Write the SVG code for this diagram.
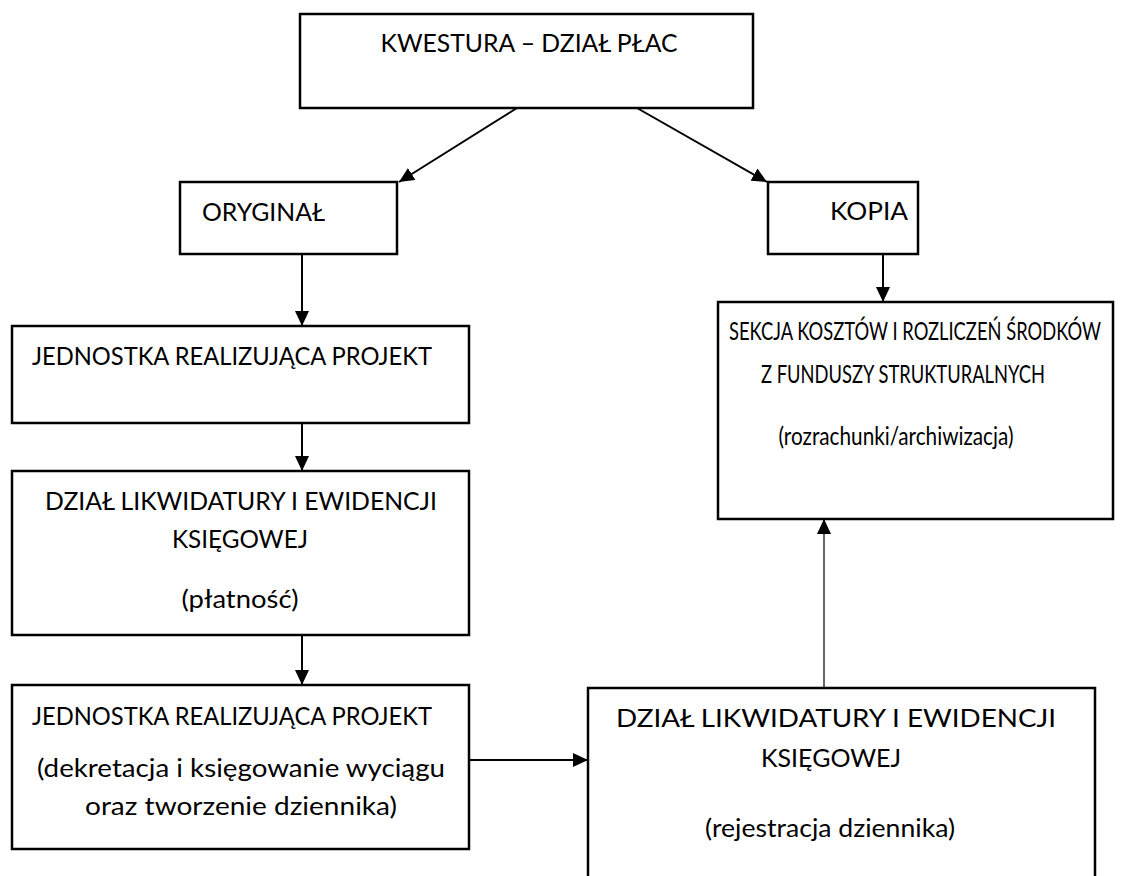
<svg xmlns="http://www.w3.org/2000/svg" width="1125" height="876" viewBox="0 0 1125 876">
<style>
.box{fill:#fff;stroke:#000;stroke-width:2.5}
.t{font-family:Lato,"Open Sans","Liberation Sans",sans-serif;font-size:25px;fill:#000}
.m{text-anchor:middle}
.c{fill:none;stroke:#000;stroke-width:2}
.thin{fill:none;stroke:#000;stroke-width:1.2}
</style>
<defs>
<marker id="ah" markerUnits="userSpaceOnUse" markerWidth="16" markerHeight="14" refX="15" refY="7" orient="auto">
<path d="M0,0 L15,7 L0,14 z" fill="#000"/>
</marker>
</defs>
<rect width="1125" height="876" fill="#fff"/>
<g id="connectors">
<line class="c" x1="517" y1="108" x2="399" y2="182" marker-end="url(#ah)"/>
<line class="c" x1="637" y1="108" x2="767" y2="182" marker-end="url(#ah)"/>
<line class="c" x1="302" y1="254" x2="302" y2="326" marker-end="url(#ah)"/>
<line class="c" x1="883" y1="255" x2="883" y2="302" marker-end="url(#ah)"/>
<line class="c" x1="302" y1="424" x2="302" y2="471" marker-end="url(#ah)"/>
<line class="c" x1="302" y1="635" x2="302" y2="685" marker-end="url(#ah)"/>
<line class="c" x1="469" y1="760" x2="588" y2="760" marker-end="url(#ah)"/>
<line class="thin" x1="824" y1="688" x2="824" y2="519" marker-end="url(#ah)"/>
</g>
<g id="n-kwestura">
<rect class="box" x="300" y="14" width="453" height="94"/>
<text class="t m" x="529" y="52" textLength="297" lengthAdjust="spacingAndGlyphs">KWESTURA – DZIAŁ PŁAC</text>
</g>
<g id="n-oryginal">
<rect class="box" x="180" y="182" width="217" height="72"/>
<text class="t" x="202" y="221" textLength="123" lengthAdjust="spacingAndGlyphs">ORYGINAŁ</text>
</g>
<g id="n-kopia">
<rect class="box" x="768" y="182" width="150" height="72"/>
<text class="t m" x="869" y="220" textLength="78" lengthAdjust="spacingAndGlyphs">KOPIA</text>
</g>
<g id="n-sekcja">
<rect class="box" x="718" y="302" width="395" height="217"/>
<text class="t m" x="915" y="340" textLength="372" lengthAdjust="spacingAndGlyphs">SEKCJA KOSZTÓW I ROZLICZEŃ ŚRODKÓW</text>
<text class="t m" x="903" y="383" textLength="284" lengthAdjust="spacingAndGlyphs">Z FUNDUSZY STRUKTURALNYCH</text>
<text class="t m" x="896" y="445" textLength="235" lengthAdjust="spacingAndGlyphs">(rozrachunki/archiwizacja)</text>
</g>
<g id="n-jednostka1">
<rect class="box" x="12" y="326" width="457" height="97"/>
<text class="t m" x="232" y="365" textLength="400" lengthAdjust="spacingAndGlyphs">JEDNOSTKA REALIZUJĄCA PROJEKT</text>
</g>
<g id="n-dzial1">
<rect class="box" x="12" y="471" width="457" height="164"/>
<text class="t m" x="241" y="510" textLength="392" lengthAdjust="spacingAndGlyphs">DZIAŁ LIKWIDATURY I EWIDENCJI</text>
<text class="t m" x="240" y="548" textLength="136" lengthAdjust="spacingAndGlyphs">KSIĘGOWEJ</text>
<text class="t m" x="240" y="608" textLength="117" lengthAdjust="spacingAndGlyphs">(płatność)</text>
</g>
<g id="n-jednostka2">
<rect class="box" x="12" y="685" width="457" height="164"/>
<text class="t m" x="232" y="725" textLength="400" lengthAdjust="spacingAndGlyphs">JEDNOSTKA REALIZUJĄCA PROJEKT</text>
<text class="t m" x="241" y="777" textLength="408" lengthAdjust="spacingAndGlyphs">(dekretacja i księgowanie wyciągu</text>
<text class="t m" x="241" y="815" textLength="312" lengthAdjust="spacingAndGlyphs">oraz tworzenie dziennika)</text>
</g>
<g id="n-dzial2">
<rect class="box" x="588" y="688" width="507" height="200"/>
<text class="t m" x="836" y="727" textLength="440" lengthAdjust="spacingAndGlyphs">DZIAŁ LIKWIDATURY I EWIDENCJI</text>
<text class="t m" x="831" y="767" textLength="140" lengthAdjust="spacingAndGlyphs">KSIĘGOWEJ</text>
<text class="t m" x="830" y="837" textLength="250" lengthAdjust="spacingAndGlyphs">(rejestracja dziennika)</text>
</g>
</svg>
